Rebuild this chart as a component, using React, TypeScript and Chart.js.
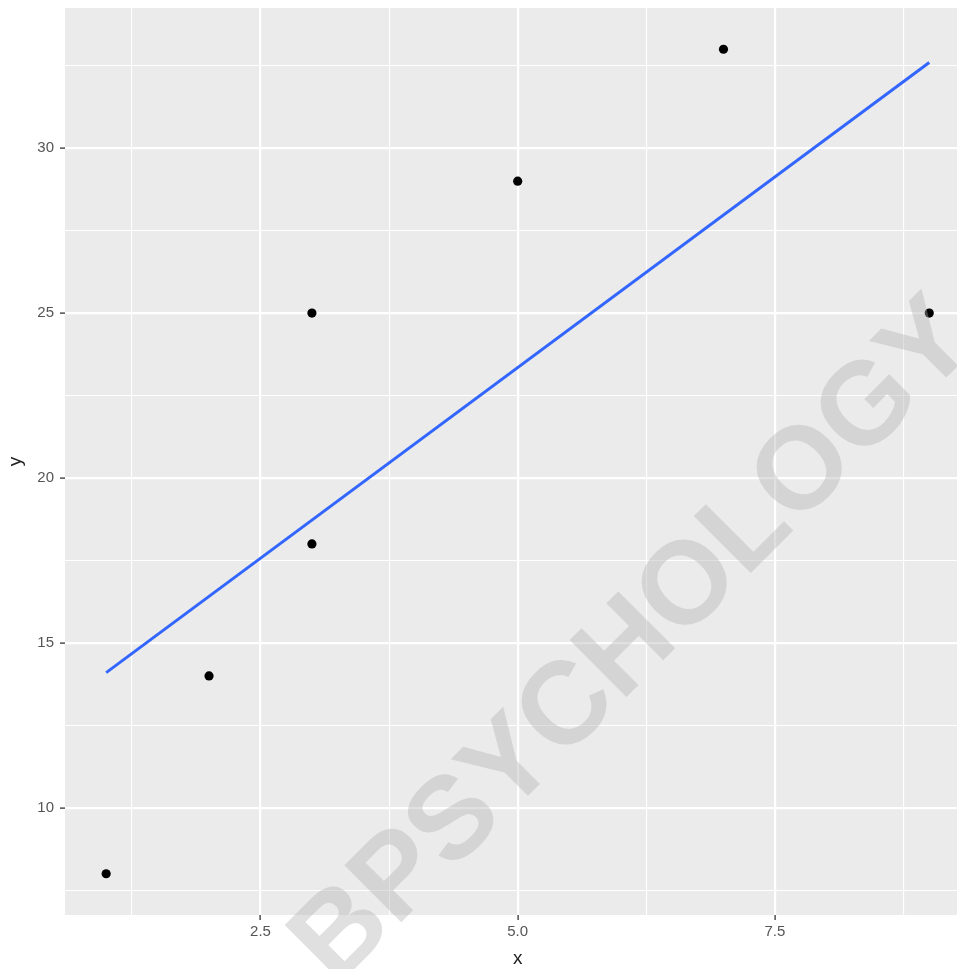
import React, { useEffect, useRef } from "react";
import { Chart, registerables } from "chart.js";

Chart.register(...registerables);

// ---- data ----
const pointX = [1, 2, 3, 3, 5, 7, 9];
const pointY = [8, 14, 25, 18, 29, 33, 25];
const fitX = [1, 9];
const fitY = [14.1, 32.6];
const xMajorTicks = [2.5, 5.0, 7.5];
const xMinorTicks = [1.25, 3.75, 6.25, 8.75];
const yMajorTicks = [10, 15, 20, 25, 30];
const yMinorTicks = [7.5, 12.5, 17.5, 22.5, 27.5, 32.5];
const xLimits = [0.6, 9.4];
const yLimits = [6.75, 34.25];
const xTitle = "x";
const yTitle = "y";
const watermarkText = "BPSYCHOLOGY";

const FONT = '"Liberation Sans", Arial, Helvetica, sans-serif';

const panelPlugin = {
  id: "ggPanel",
  beforeDraw(chart: any) {
    const { ctx, chartArea: a, width, height } = chart;
    ctx.save();
    ctx.fillStyle = "#FFFFFF";
    ctx.fillRect(0, 0, width, height);
    ctx.fillStyle = "#EBEBEB";
    ctx.fillRect(a.left, a.top, a.right - a.left, a.bottom - a.top);
    ctx.restore();
  },
  afterDraw(chart: any) {
    const { ctx } = chart;
    ctx.save();
    ctx.translate(635, 643);
    ctx.rotate(-Math.PI / 4);
    ctx.font = `bold 117px ${FONT}`;
    ctx.fillStyle = "rgba(178,178,178,0.4)";
    ctx.textAlign = "center";
    ctx.textBaseline = "middle";
    ctx.fillText(watermarkText, 0, 0);
    ctx.restore();
  },
};

export default function App() {
  const ref = useRef<HTMLCanvasElement>(null);

  useEffect(() => {
    document.body.style.margin = "0";
    const isXMajor = (v: number) => xMajorTicks.includes(v);
    const isYMajor = (v: number) => yMajorTicks.includes(v);

    const chart = new Chart(ref.current as HTMLCanvasElement, {
      type: "scatter",
      data: {
        datasets: [
          {
            type: "scatter",
            data: pointX.map((x, i) => ({ x, y: pointY[i] })),
            pointRadius: 4.6,
            pointBackgroundColor: "#000000",
            pointBorderWidth: 0,
            order: 2,
          } as any,
          {
            type: "line",
            data: fitX.map((x, i) => ({ x, y: fitY[i] })),
            borderColor: "#3366FF",
            borderWidth: 3,
            pointRadius: 0,
            fill: false,
            showLine: true,
            order: 1,
          } as any,
        ],
      },
      options: {
        animation: false,
        responsive: false,
        layout: { padding: { top: 8, left: 0, right: 0, bottom: 0 } },
        plugins: {
          legend: { display: false },
          tooltip: { enabled: false },
        },
        scales: {
          x: {
            type: "linear",
            min: xLimits[0],
            max: xLimits[1],
            afterBuildTicks: (s: any) => {
              s.ticks = [...xMinorTicks, ...xMajorTicks]
                .sort((a, b) => a - b)
                .map((v) => ({ value: v }));
            },
            afterFit: (s: any) => {
              s.height = 54;
              s.paddingLeft = 0;
              s.paddingRight = 0;
            },
            border: { display: false },
            grid: {
              color: "#FFFFFF",
              lineWidth: (c: any) => (isXMajor(c.tick?.value) ? 2.2 : 1.1),
              tickColor: (c: any) =>
                isXMajor(c.tick?.value) ? "#333333" : "rgba(0,0,0,0)",
              tickLength: 5,
              tickWidth: 1.3,
            },
            ticks: {
              autoSkip: false,
              maxRotation: 0,
              minRotation: 0,
              padding: 3,
              color: "#555555",
              font: { family: FONT, size: 15 },
              callback: (v: any) =>
                isXMajor(Number(v)) ? Number(v).toFixed(1) : "",
            },
            title: {
              display: true,
              text: xTitle,
              color: "#222222",
              font: { family: FONT, size: 19 },
              padding: { top: 0, bottom: -1.5 },
            },
          },
          y: {
            type: "linear",
            min: yLimits[0],
            max: yLimits[1],
            afterBuildTicks: (s: any) => {
              s.ticks = [...yMinorTicks, ...yMajorTicks]
                .sort((a, b) => a - b)
                .map((v) => ({ value: v }));
            },
            afterFit: (s: any) => {
              s.width = 65;
              s.paddingTop = 0;
              s.paddingBottom = 0;
            },
            border: { display: false },
            grid: {
              color: "#FFFFFF",
              lineWidth: (c: any) => (isYMajor(c.tick?.value) ? 2.2 : 1.1),
              tickColor: (c: any) =>
                isYMajor(c.tick?.value) ? "#333333" : "rgba(0,0,0,0)",
              tickLength: 5,
              tickWidth: 1.3,
            },
            ticks: {
              autoSkip: false,
              padding: 6,
              color: "#555555",
              font: { family: FONT, size: 15 },
              callback: (v: any) =>
                isYMajor(Number(v)) ? String(Number(v)) : "",
            },
            title: {
              display: true,
              text: yTitle,
              color: "#222222",
              font: { family: FONT, size: 19 },
              padding: { top: 4, bottom: 0 },
            },
          },
        },
      },
      plugins: [panelPlugin],
    } as any);

    return () => chart.destroy();
  }, []);

  return (
    <div
      style={{
        width: 957,
        height: 969,
        overflow: "hidden",
        position: "relative",
      }}
    >
      <canvas
        ref={ref}
        width={975}
        height={969}
        style={{ display: "block", width: 975, height: 969 }}
      />
    </div>
  );
}
